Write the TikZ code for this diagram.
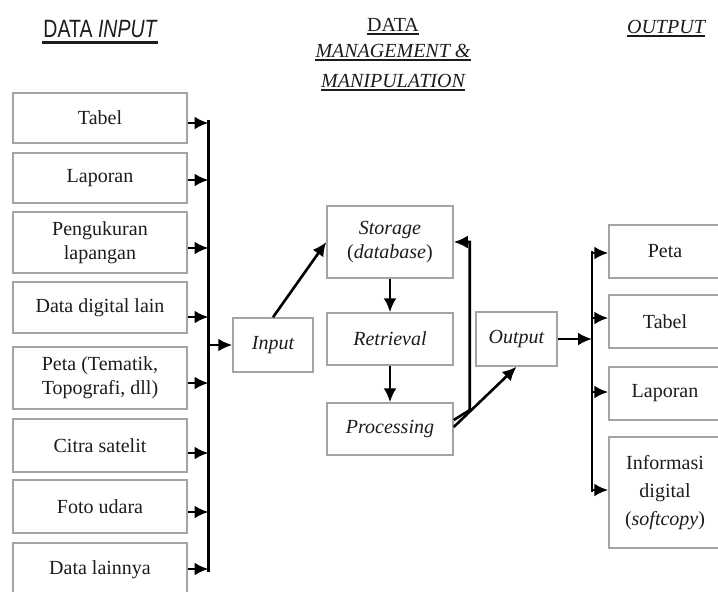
\documentclass[tikz,border=0pt]{standalone}
\usepackage{fontspec}
\setmainfont{Liberation Serif}
\newfontfamily\narrowsans[FakeStretch=0.78]{Liberation Sans}
\usetikzlibrary{arrows.meta,calc}
\definecolor{ink}{HTML}{1C1C1C}
\definecolor{boxgray}{HTML}{A4A4A4}
\begin{document}
\begin{tikzpicture}[x=1pt,y=-1pt,
  box/.style={draw=boxgray, line width=1.5pt, align=center, inner sep=2pt,
    text=ink, font=\fontsize{20}{24}\selectfont},
  lbox/.style={box, minimum width=174pt},
  rbox/.style={box, minimum width=112pt},
  mbox/.style={box, minimum width=126pt, minimum height=52pt},
  hdr/.style={inner sep=0pt, anchor=base, text=ink, font=\fontsize{20}{24}\selectfont},
  uline/.style={draw=ink, line width=1.3pt},
  arr/.style={draw=black, line width=2.6pt, -{Latex[length=14pt,width=13pt]}},
  bus/.style={draw=black, line width=2.6pt}]
\useasboundingbox (0,0) rectangle (718,592);

% column headings
\node[hdr, font=\fontsize{25}{28}\selectfont] (hin) at (100,37) {\narrowsans DATA \itshape INPUT};
\fill[ink] (42,41) rectangle (158,44);
\node[hdr] (hm1) at (393,31) {DATA};
\node[hdr] (hm2) at (393,57) {\itshape MANAGEMENT \&};
\node[hdr] (hm3) at (393,87) {\itshape MANIPULATION};
\foreach \h in {hm1,hm2,hm3}
  \draw[uline] ([yshift=-3pt]\h.base west) -- ([yshift=-3pt]\h.base east);
\node[hdr] (hout) at (666,33) {\itshape OUTPUT};
\draw[uline] ([yshift=-3pt]hout.base west) -- ([yshift=-3pt]hout.base east);

% data sources
\node[lbox, minimum height=50pt] (s1) at (100,118)   {Tabel};
\node[lbox, minimum height=50pt] (s2) at (100,178)   {Laporan};
\node[lbox, minimum height=61pt] (s3) at (100,242.5) {Pengukuran\\lapangan};
\node[lbox, minimum height=51pt] (s4) at (100,307.5) {Data digital lain};
\node[lbox, minimum height=62pt] (s5) at (100,378)   {Peta (Tematik,\\Topografi, dll)};
\node[lbox, minimum height=53pt] (s6) at (100,445.5) {Citra satelit};
\node[lbox, minimum height=53pt] (s7) at (100,506.5) {Foto udara};
\node[lbox, minimum height=54pt] (s8) at (100,570)   {Data lainnya};

% collecting bus on the left
\coordinate (lbT) at (208.5,120);
\coordinate (lbB) at (208.5,572);
\draw[bus] (lbT) -- (lbB);
\foreach \s/\d in {s1/-5,s2/-2,s3/-5.5,s4/-9.5,s5/-5,s6/-7.5,s7/-5.5,s8/1}
  \draw[arr] ([yshift=\d pt]\s.east) -- ([yshift=\d pt]\s.east -| lbT);

% data management & manipulation
\node[box, minimum width=80pt, minimum height=54pt] (inp) at (273,345) {\itshape Input};
\node[mbox, minimum height=72pt] (sto) at (390,242) {\itshape Storage\\(\textit{database})};
\node[mbox] (ret) at (390,339) {\itshape Retrieval};
\node[mbox] (pro) at (390,429) {\itshape Processing};
\node[box, minimum width=81pt, minimum height=54pt] (out) at (516.5,339) {\itshape Output};

\draw[arr] (inp.west -| lbT) -- (inp.west);
\draw[arr] (inp.north) -- (sto.west);
\draw[arr] (sto.south) -- (ret.north);
\draw[arr] (ret.south) -- (pro.north);
\draw[arr] ([yshift=9pt]pro.east) -- ++(16,-10) |- (sto.east);
\draw[arr] ([yshift=2pt]pro.east) -- (out.south);

% outputs
\coordinate (rbT) at (592,251);
\coordinate (rbB) at (592,492);
\draw[bus] (rbT) -- (rbB);
\draw[arr] (out.east) -- (out.east -| rbT);

\node[rbox, minimum height=53pt] (o1) at (665,251.5) {Peta};
\node[rbox, minimum height=53pt] (o2) at (665,321.5) {Tabel};
\node[rbox, minimum height=53pt] (o3) at (665,393.5) {Laporan};
\node[rbox, minimum height=111pt, font=\fontsize{20}{28}\selectfont] (o4) at (665,492.5)
  {Informasi\\digital\\(\textit{softcopy})};
\foreach \o/\d in {o1/-1.5,o2/3.5,o3/1.5,o4/2.5}
  \draw[arr] ([yshift=\d pt]\o.west -| rbT) -- ([yshift=\d pt]\o.west);
\end{tikzpicture}
\end{document}
